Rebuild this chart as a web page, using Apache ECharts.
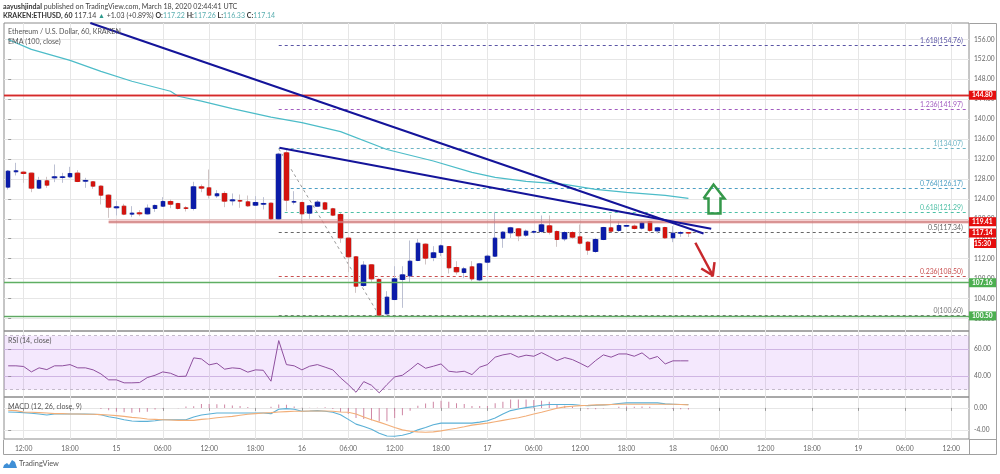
<!DOCTYPE html>
<html><head><meta charset="utf-8">
<style>html,body{margin:0;padding:0;background:#fff}#c{width:1000px;height:474px}</style>
<script src="https://cdn.jsdelivr.net/npm/echarts@6/dist/echarts.min.js"></script></head>
<body><div id="c"></div>
<script>
const opens=[126.35,129.43,129.36,129.16,126.15,127.62,128.22,128.29,128.42,129.16,
127.55,127.42,126.55,124.74,122.20,122.53,120.93,121.19,120.99,122.06,
122.53,123.47,123.07,122.20,122.06,126.41,126.21,124.61,125.08,123.60,
123.67,123.40,122.73,122.93,123.13,119.99,133.24,123.34,123.27,121.13,
122.53,123.20,122.00,120.86,116.11,112.36,106.60,110.75,107.81,100.91,
103.79,107.81,108.54,111.62,114.90,112.22,113.23,114.43,110.22,109.21,
110.35,107.74,111.29,112.49,116.11,117.18,117.98,116.71,117.31,117.45,
118.58,117.45,115.97,117.24,116.37,115.30,113.43,115.84,118.18,117.65,
118.52,118.52,118.11,119.45,117.58,118.25,116.17,117.11,117.22];
const closes=[129.56,129.63,129.09,126.15,127.69,126.75,128.42,128.42,129.09,127.48,
127.69,126.55,124.74,122.33,122.40,120.93,121.13,120.99,122.13,122.67,
123.47,122.93,122.06,122.06,126.41,126.15,124.74,125.01,123.54,123.80,
123.54,122.60,123.27,123.07,119.99,132.97,123.74,123.47,120.99,122.60,
123.34,121.93,120.73,116.17,112.36,106.47,110.69,107.94,100.65,104.26,
107.94,108.74,111.49,115.10,112.09,113.16,114.57,110.15,109.35,109.95,
107.94,110.95,112.49,116.11,117.31,118.18,116.58,117.51,117.45,118.78,
117.31,115.84,117.24,116.31,115.10,113.70,115.84,118.25,117.51,118.65,
118.65,118.05,119.19,117.65,118.18,116.17,117.11,117.24,117.14];
const lows=[125.88,128.69,127.22,125.34,126.01,126.21,127.35,127.22,128.22,127.35,
126.21,126.01,122.87,120.19,120.66,120.72,120.32,120.52,120.86,121.39,
122.40,122.13,121.86,121.46,121.66,125.34,124.07,124.20,122.33,122.67,
122.20,122.40,122.53,121.86,119.85,119.85,121.53,122.87,119.05,119.99,
122.40,121.73,120.52,115.17,109.28,105.13,106.33,107.14,100.60,100.78,
103.66,102.12,107.14,111.49,110.82,111.49,112.49,109.01,108.81,108.14,
107.47,107.47,109.68,112.36,114.17,116.17,115.50,116.37,117.04,117.18,
116.84,114.37,115.50,115.97,114.84,112.76,113.16,115.71,117.31,117.31,
118.38,117.85,117.85,117.31,117.04,115.97,115.30,116.37,116.33];
const highs=[129.76,131.23,129.56,129.22,128.42,128.42,130.90,129.22,130.43,129.76,
128.22,127.55,126.68,124.87,123.54,123.00,122.53,121.73,122.87,122.87,
124.34,123.87,123.20,122.53,127.42,126.88,129.89,125.74,125.54,125.08,
124.87,124.67,124.54,124.34,123.20,133.24,134.07,125.54,123.40,122.73,
123.74,123.40,122.20,121.19,116.17,112.49,111.49,110.82,108.14,105.47,
110.48,110.48,115.64,115.97,115.04,114.50,114.84,114.50,111.49,110.35,
111.49,111.15,112.83,121.39,117.51,118.38,118.11,117.85,117.65,120.66,
120.66,117.65,117.51,117.51,118.85,115.50,116.17,118.38,120.79,119.52,
118.65,118.85,119.52,119.59,118.38,118.38,118.52,117.51,117.26];
const emaIdx=[0,3,8,12,16,21,22,25,29,34,38,43,49,55,60,63,67,72,76,80,85,88];
const emaVal=[156,154.0,151.8,149.6,147.6,145.6,144.6,143.6,142.1,140.4,139.3,137.5,133.9,131.6,129.3,128.3,127.5,126.9,125.9,125.3,124.7,124.1];
const rsi=[47.7,47.7,47.2,43.2,46.2,44.9,47.7,47.7,48.6,46.2,
46.2,44.7,41.7,37.3,37.3,35.1,35.1,35.3,39,40.7,
43.2,42.2,39.8,40,53.6,52.8,48.4,49.6,45.2,46.2,
45.7,43,44.7,44.4,36.3,66.4,48.6,47.7,44.7,47.4,
48.6,46.7,44.7,38.8,33.8,28.1,36,33.3,27.7,33.8,
39.5,40.7,44.9,49.6,45.9,47.4,49.1,43.7,43,43.7,
41.2,46.7,48.6,54.1,55.8,56.8,54.1,55.6,54.8,57.5,
54.6,51.6,53.8,52.3,49.6,46.7,51.6,55.8,54.1,56.5,
56.5,54.8,57.3,52.8,54.6,49.1,51.4,51.4,51.4];
const macd=[-.73,-.79,-.85,-.97,-1.09,-1.27,-1.09,-1.09,-1.09,-1.09,
-1.09,-1.15,-1.21,-1.58,-1.82,-2.12,-2.36,-2.42,-2.42,-2.30,
-2.12,-2.12,-2.12,-2.12,-1.64,-1.27,-1.09,-.91,-.91,-.91,
-.91,-.91,-.91,-.91,-1.03,-.24,-.12,-.24,-.61,-.55,
-.48,-.61,-.79,-1.21,-2.06,-2.91,-3.33,-3.82,-4.55,-5.03,
-5.09,-4.91,-4.55,-3.94,-3.52,-3.03,-2.73,-2.73,-2.73,-2.73,
-2.73,-2.55,-2.30,-1.82,-1.09,-.48,-.18,.06,.24,.48,
.61,.61,.61,.61,.48,.42,.48,.55,.61,.79,
.91,.91,.91,.91,.91,.73,.67,.61,.61];
const signal=[-.42,-.48,-.73,-.79,-.85,-.91,-1.03,-1.03,-1.09,-1.09,
-1.15,-1.15,-1.21,-1.27,-1.39,-1.52,-1.70,-1.82,-2.0,-2.06,
-2.12,-2.18,-2.24,-2.24,-2.24,-2.06,-1.94,-1.76,-1.64,-1.52,
-1.33,-1.15,-1.03,-.91,-.85,-.73,-.67,-.61,-.61,-.55,
-.55,-.55,-.61,-.73,-.79,-1.09,-1.64,-2.12,-2.55,-3.03,
-3.52,-3.94,-4.18,-4.30,-4.36,-4.30,-4.12,-3.88,-3.64,-3.39,
-3.09,-2.91,-2.73,-2.48,-2.24,-2.0,-1.76,-1.45,-1.09,-.79,
-.42,-.06,.18,.30,.42,.48,.55,.55,.61,.67,
.67,.67,.67,.67,.67,.67,.67,.61,.55];
const hist=[0,0,0,0,0,0,0,0,0,0,
0,0,-.2,-.4,-.7,-.8,-.85,-.8,-.7,-.3,
-.1,0,-.05,.25,.3,.7,.7,.65,.6,.45,
.35,.15,0,0,.2,.6,.55,.25,.05,.05,
.05,.1,-.2,-.73,-1.09,-1.8,-2.0,-2.2,-2.4,-2.4,
-1.8,-1.3,-.5,.4,.8,1.1,1.3,1.1,.85,.7,
.35,.35,.35,.85,1.1,1.5,1.5,1.5,1.4,1.3,
1.1,.65,.4,.3,0,-.25,-.25,-.1,0,.2,
.25,.2,.25,.2,0,-.1,-.2,-.25,-.3];
const timeTicks=[2,8,14,20,26,32,38,44,50,56,62,68,74,80,86,92,98,104,110,116,122];
const timeLabels=["12:00","18:00","15","06:00","12:00","18:00","16","06:00","12:00","18:00","17","06:00","12:00","18:00","18","06:00","12:00","18:00","19","06:00","12:00"];
const priceTicks=[100,104,108,112,116,120,124,128,132,136,140,144,148,152,156];
const rsiTicks=[40,60];
const macdTicks=[-4,0];
const fibLevels=[154.76,141.97,134.07,126.17,121.29,117.34,108.50,100.60];
const fibNames=["1.618","1.236","1","0.764","0.618","0.5","0.236","0"];
const fibColors=["#5a55a5","#a25cc0","#6cb4c4","#4d9fc4","#4dbfa5","#666666","#c94f4f","#777777"];
const fibStart=35, fibEnd=123.9;
const trendA=[[10.63,159.3],[89.96,117.04]];
const trendB=[[35.09,134.25],[90.95,117.99]];
const fibDiagonal=[[35,134.07],[48,100.6]];
const arrowUp=[[89.96,124.07],[91.25,126.88],[92.67,124.07],[92.15,124.07],[92.15,121.06],[90.6,121.06],[90.6,124.07],[89.96,124.07]];
const arrowDownShaft=[[88.9,115.18],[91.16,108.61]];
const arrowDownHead=[[89.66,110.02],[91.16,108.61],[91.38,111.28]];

const F='Lato,"Noto Sans",sans-serif';
const X0=-0.54,X1=124.3;
const N=opens.length;
const idx=Array.from({length:N},(_,i)=>i);
const grids=[{left:4,right:31,top:23,height:308},{left:4,right:31,top:331,height:66},{left:4,right:31,top:397,height:42}];
const grid=grids.map(g=>({...g,show:true,borderColor:'#8c8c8c',borderWidth:1,backgroundColor:'transparent'}));
const split={show:true,lineStyle:{color:'#e6e6e6',width:1}};
function xa(i,lab){return {type:'value',gridIndex:i,min:X0,max:X1,
  axisLine:{show:false},
  axisTick:{show:lab,length:3,lineStyle:{color:'#999'},customValues:timeTicks},
  splitLine:split,
  axisLabel:{show:lab,customValues:timeTicks,fontSize:6.8,color:'#666',fontFamily:F,margin:6,hideOverlap:false,
    formatter:v=>timeLabels[timeTicks.indexOf(v)]||''}};}
function ya(i,lo,hi,ticks,col){return {type:'value',gridIndex:i,position:'right',min:lo,max:hi,
  axisLine:{show:false},
  axisTick:{show:true,length:3,lineStyle:{color:'#999'},customValues:ticks},
  splitLine:{show:true,lineStyle:{color:col||'#e6e6e6',width:1}},
  axisLabel:{customValues:ticks,fontSize:6.6,color:'#666',fontFamily:F,margin:5,showMinLabel:true,showMaxLabel:true,hideOverlap:false,
    formatter:v=>v.toFixed(2)}};}

const hLines=[
 {y:144.80,from:X0,color:'#d42a2a',halo:'rgba(230,60,60,.28)',hw:3,w:1.4,tag:'144.80',tc:'#e50e0e'},
 {y:119.41,from:13,color:'#cf7f7f',halo:'rgba(220,90,90,.28)',hw:4.5,w:1.6,tag:'119.41',tc:'#e50e0e'},
 {y:107.16,from:X0,color:'#5fae63',halo:'rgba(90,180,95,.25)',hw:3,w:1.2,tag:'107.16',tc:'#4caf50'},
 {y:100.50,from:X0,color:'#5fa763',halo:'rgba(90,180,95,.22)',hw:3,w:1,tag:'100.50',tc:'#4caf50'}];
const tagLabel=(t,c)=>({show:true,position:'end',distance:0,formatter:t,color:'#fff',backgroundColor:c,fontSize:6.6,fontWeight:'bold',fontFamily:F,width:24,height:9,lineHeight:9,padding:[0,0,0,3],align:'left',verticalAlign:'middle',overflow:'none'});

const series=[
 {type:'candlestick',name:'wicks',xAxisIndex:0,yAxisIndex:0,barWidth:6,encode:{x:0,y:[1,2,3,4]},z:3,
  itemStyle:{color:'#c3c9e6',color0:'#ecc6c6',borderColor:'#bcc0d2',borderColor0:'#cfc4c4',borderWidth:1},
  data:idx.map(i=>[i,opens[i],closes[i],lows[i],highs[i]])},
 {type:'candlestick',name:'bodies',xAxisIndex:0,yAxisIndex:0,barWidth:4,encode:{x:0,y:[1,2,3,4]},z:4,
  itemStyle:{color:'#0b1ba8',color0:'#d3140f',borderColor:'#0b1ba8',borderColor0:'#d3140f',borderWidth:1},
  data:idx.map(i=>[i,opens[i],closes[i],Math.min(opens[i],closes[i]),Math.max(opens[i],closes[i])])},
 {type:'line',name:'EMA',xAxisIndex:0,yAxisIndex:0,showSymbol:false,z:5,lineStyle:{color:'#4cbcc8',width:1.2},
  data:emaIdx.map((x,i)=>[x,emaVal[i]])},
 {type:'line',name:'levels',xAxisIndex:0,yAxisIndex:0,showSymbol:false,z:2,lineStyle:{width:0},data:[],
  markLine:{silent:true,symbol:'none',animation:false,z:2,data:
   fibLevels.map((v,i)=>[
    {coord:[fibStart,v],lineStyle:{color:fibColors[i],type:[3,3],width:1},
     label:{show:true,position:'insideEndTop',distance:[3,1],formatter:fibNames[i]+'('+v.toFixed(2)+')',color:fibColors[i],fontSize:6.9,fontFamily:F}},
    {coord:[fibEnd,v]}])}},
 {type:'line',name:'halo',xAxisIndex:0,yAxisIndex:0,showSymbol:false,z:2,lineStyle:{width:0},data:[],
  markLine:{silent:true,symbol:'none',animation:false,data:
   hLines.map(h=>[{coord:[h.from,h.y],lineStyle:{color:h.halo,width:h.hw,type:'solid'},label:{show:false}},{coord:[X1,h.y]}])}},
 {type:'line',name:'price lines',xAxisIndex:0,yAxisIndex:0,showSymbol:false,z:6,lineStyle:{width:0},data:[],
  markLine:{silent:true,symbol:'none',animation:false,z:6,data:
   hLines.map(h=>[{coord:[h.from,h.y],lineStyle:{color:h.color,width:h.w,type:'solid'},label:tagLabel(h.tag,h.tc)},{coord:[X1,h.y]}])
   .concat([[{coord:[fibEnd,closes[N-1]],lineStyle:{color:'rgba(0,0,0,0)',width:1},label:tagLabel(closes[N-1].toFixed(2),'#e50e0e')},{coord:[X1,closes[N-1]]}]])}},
 {type:'line',name:'trend A',xAxisIndex:0,yAxisIndex:0,showSymbol:false,z:7,lineStyle:{color:'#14149a',width:2},data:trendA},
 {type:'line',name:'trend B',xAxisIndex:0,yAxisIndex:0,showSymbol:false,z:7,lineStyle:{color:'#14149a',width:2},data:trendB},
 {type:'line',name:'fib diagonal',xAxisIndex:0,yAxisIndex:0,showSymbol:false,z:3,lineStyle:{color:'#9a9a9a',width:1,type:[3,3]},data:fibDiagonal},
 {type:'line',name:'arrow up',xAxisIndex:0,yAxisIndex:0,showSymbol:false,z:7,lineStyle:{color:'#35984a',width:2.5,join:'miter'},data:arrowUp},
 {type:'line',name:'arrow down',xAxisIndex:0,yAxisIndex:0,showSymbol:false,z:7,lineStyle:{color:'#c7282c',width:2.5},data:arrowDownShaft},
 {type:'line',name:'arrow head',xAxisIndex:0,yAxisIndex:0,showSymbol:false,z:7,lineStyle:{color:'#c7282c',width:2.5},data:arrowDownHead},
 {type:'line',name:'RSI',xAxisIndex:1,yAxisIndex:1,showSymbol:false,z:5,lineStyle:{color:'#8e4f9e',width:1},
  data:idx.map(i=>[i,rsi[i]]),
  markArea:{silent:true,animation:false,itemStyle:{color:'rgba(150,40,235,.105)'},data:[[{yAxis:30},{yAxis:70}]]},
  markLine:{silent:true,symbol:'none',animation:false,label:{show:false},lineStyle:{color:'#c4bacb',type:[3,3],width:1},data:[{yAxis:30},{yAxis:70}]}},
 {type:'bar',name:'hist',xAxisIndex:2,yAxisIndex:2,barWidth:1,z:3,itemStyle:{color:'#cf86a4'},data:idx.map(i=>[i,hist[i]])},
 {type:'line',name:'MACD',xAxisIndex:2,yAxisIndex:2,showSymbol:false,z:5,lineStyle:{color:'#5bb0d6',width:1.1},data:idx.map(i=>[i,macd[i]])},
 {type:'line',name:'Signal',xAxisIndex:2,yAxisIndex:2,showSymbol:false,z:6,lineStyle:{color:'#f2ae78',width:1.1},data:idx.map(i=>[i,signal[i]])}
];

const pane=(t,x,y)=>({type:'text',left:x,top:y,z:20,silent:true,style:{text:t,fontSize:7.1,fill:'#555',fontFamily:F}});
const chart=echarts.init(document.getElementById('c'),null,{renderer:'canvas'});
chart.setOption({animation:false,backgroundColor:'#fff',
 title:[{left:3,top:3,padding:0,textStyle:{fontSize:7.1,fontWeight:'normal',color:'#444',fontFamily:F,
   rich:{b:{fontSize:7.1,fontWeight:'bold',color:'#333',fontFamily:F}}},
   text:'{b|aayushjindal} published on TradingView.com, March 18, 2020 02:44:41 UTC'},
  {left:3,top:12.5,padding:0,textStyle:{fontSize:7,fontWeight:'normal',color:'#444',fontFamily:F,
   rich:{b:{fontSize:7,fontWeight:'bold',color:'#333',fontFamily:F},g:{fontSize:7,color:'#2e9a8c',fontFamily:F},t:{fontSize:7,color:'#5aaeb0',fontFamily:F}}},
   text:'{b|KRAKEN:ETHUSD, 60} 117.14 {g|▲} +1.03 (+0.89%) {b|O:}{t|117.22} {b|H:}{t|117.26} {b|L:}{t|116.33} {b|C:}{t|117.14}'}],
 grid,
 xAxis:[xa(0,false),xa(1,false),xa(2,true)],
 yAxis:[ya(0,97.47,159.3,priceTicks),ya(1,24.6,73.5,rsiTicks,'#d6c6e2'),ya(2,-5.58,1.96,macdTicks)],
 series,
 graphic:[
  {type:'polyline',silent:true,z:19,shape:{points:[[3.5,439.5],[3.5,454.5],[996.5,454.5],[996.5,23.5],[969.5,23.5]]},style:{stroke:'#a0a0a0',fill:null,lineWidth:1}},
  {type:'line',silent:true,z:19,shape:{x1:969.5,y1:439,x2:969.5,y2:454},style:{stroke:'#a0a0a0',lineWidth:1}},
  {type:'line',silent:true,z:19,shape:{x1:969,y1:439.5,x2:996,y2:439.5},style:{stroke:'#a0a0a0',lineWidth:1}},
  pane('Ethereum / U.S. Dollar, 60, KRAKEN',8,28.5),pane('EMA (100, close)',8,38.5),
  pane('RSI (14, close)',8,337),pane('MACD (12, 26, close, 9)',8,403),
  {type:'text',left:974,top:239,z:25,silent:true,style:{text:'15:30',fontSize:6.6,fontWeight:'bold',fill:'#fff',backgroundColor:'#e50e0e',width:22,height:9,lineHeight:9,align:'center',fontFamily:F}},
  {type:'polygon',silent:true,z:20,shape:{points:[[3,468],[4,465],[7,463],[9,465],[12,460],[15,462],[17,468]]},style:{fill:'#3f8fd6'}},
  {type:'text',left:19,top:460,z:20,silent:true,style:{text:'TradingView',fontSize:7.4,fill:'#555',fontFamily:F}}
 ]});
</script></body></html>
